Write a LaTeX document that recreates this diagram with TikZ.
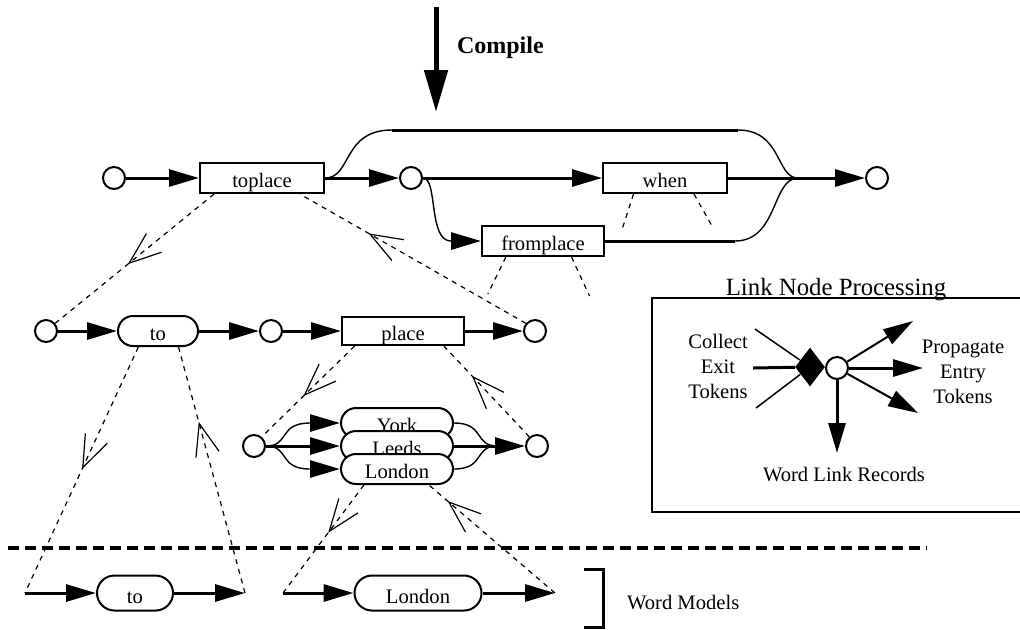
\documentclass[tikz,border=0pt]{standalone}
\usepackage{fontspec}
\setmainfont{Liberation Serif}
\usetikzlibrary{arrows.meta,positioning,calc,shapes.geometric,decorations.markings}

\newcommand\netfont{\fontsize{10.3}{12.5}\selectfont}

\tikzset{
  state/.style={circle,draw,line width=1pt,minimum size=11pt,inner sep=0pt,fill=white},
  rule/.style={rectangle,draw,line width=1pt,minimum width=#1,minimum height=15pt,inner sep=0pt,
    text height=9pt,text depth=0pt,font=\netfont,fill=white},
  word/.style={rule=#1,rounded corners=7.5pt},
  model/.style={word=#1,rounded corners=8.75pt,minimum height=17.5pt,text height=10pt},
  flow/.style={line width=1.5pt,-{Triangle[length=15pt,width=8.5pt]}},
  branch/.style={line width=0.7pt},
  bar/.style={line width=1.5pt},
  backlink/.style={line width=0.6pt,dash pattern=on 2.5pt off 2.5pt},
  chevron/.style={backlink,postaction={decorate,solid,line width=1pt},
    decoration={markings,mark=at position #1 with {\arrow{Straight Barb[length=16pt,width=12pt,line width=1pt]}}}},
}

\begin{document}
\begin{tikzpicture}[x=0.5pt,y=-0.5pt]
  \useasboundingbox (0,0) rectangle (1020,629);

  % compile arrow
  \coordinate (src) at (436,7);
  \coordinate (dst) at (436,112);
  \draw[line width=2.5pt,-{Triangle[length=21pt,width=11.5pt]}] (src) -- (dst);
  \node[anchor=west,font=\fontsize{12}{14}\selectfont\bfseries] (compile) at (450,48) {Compile};

  % sentence level
  \node[state] (c1) at (114,178) {};
  \node[rule=62pt, right=36.5pt of c1] (toplace) {toplace};
  \node[state, right=37pt of toplace] (c2) {};
  \node[rule=62pt, right=89.5pt of c2] (when) {when};
  \node[state, right=68.5pt of when] (c5) {};
  \node[rule=61pt] (fromplace) at (543,241) {fromplace};
  \coordinate (mergea) at (798,178);
  \coordinate (fromin) at (451,241);

  \draw[flow] (c1) -- (toplace);
  \draw[flow] (toplace) -- (c2);
  \draw[flow] (c2) -- (when);
  \draw[bar] (when) -- (mergea);
  \draw[flow] (mergea) -- (c5);
  \draw[branch] (toplace.east) .. controls (352,178) and (342,130) .. (392,130);
  \draw[bar] (392,130) -- (738,130);
  \draw[branch] (738,130) .. controls (782,130) and (776,178) .. (mergea);
  \draw[branch] (c2.east) .. controls (438,178) and (428,241) .. (fromin);
  \draw[flow] (fromin) -- (fromplace);
  \draw[bar] (fromplace) -- (735,241);
  \draw[branch] (735,241) .. controls (778,241) and (772,178) .. (mergea);

  \draw[backlink] ($(when.south west)!0.25!(when.south east)$) -- ++(-11,34);
  \draw[backlink] ($(when.south west)!0.73!(when.south east)$) -- ++(18,32);
  \draw[backlink] ($(fromplace.south west)!0.2!(fromplace.south east)$) -- ++(-18,37);
  \draw[backlink] ($(fromplace.south west)!0.73!(fromplace.south east)$) -- ++(18,39);

  % toplace
  \node[state] (c3l) at (46,331) {};
  \node[word=40pt, right=29.5pt of c3l] (to) {to};
  \node[state, right=30pt of to] (c3) {};
  \node[rule=61pt, minimum height=14pt, right=29pt of c3] (place) {place};
  \node[state, right=29pt of place] (c4) {};

  \draw[flow] (c3l) -- (to);
  \draw[flow] (to) -- (c3);
  \draw[flow] (c3) -- (place);
  \draw[flow] (place) -- (c4);

  \draw[chevron=0.55] ($(toplace.south west)!0.12!(toplace.south east)$) -- (c3l.40);
  \draw[chevron=0.7] (c4.140) -- ($(toplace.south west)!0.8!(toplace.south east)$);

  % place
  \node[state] (cy) at (254,446) {};
  \node[word=56pt] (york) at (397,423) {York};
  \node[word=56pt] (leeds) at (397,446) {Leeds};
  \node[word=56pt] (london) at (397,469) {London};
  \node[state] (cz) at (537,446) {};
  \coordinate (yorkin) at (310,423);
  \coordinate (londonin) at (310,469);
  \coordinate (mergeb) at (497,446);

  \draw[branch] (cy.east) .. controls (290,446) and (278,423) .. (yorkin);
  \draw[branch] (cy.east) .. controls (290,446) and (278,469) .. (londonin);
  \draw[flow] (yorkin) -- (york);
  \draw[flow] (cy) -- (leeds);
  \draw[flow] (londonin) -- (london);
  \draw[branch] (york.east) .. controls (485,423) and (474,446) .. (mergeb);
  \draw[branch] (london.east) .. controls (485,469) and (474,446) .. (mergeb);
  \draw[bar] (leeds) -- (mergeb);
  \draw[flow] (mergeb) -- (cz);

  \draw[chevron=0.56] ($(place.south west)!0.11!(place.south east)$) -- (cy.50);
  \draw[chevron=0.68] (cz.130) -- ($(place.south west)!0.83!(place.south east)$);

  % word models
  \draw[line width=2pt,dash pattern=on 5.5pt off 3pt] (8,548) -- (927,548);

  \coordinate (tostart) at (25,593);
  \coordinate (toend) at (245,593);
  \coordinate (lostart) at (283,593);
  \coordinate (loend) at (555,593);
  \node[model=38pt] (wto) at (135,593) {to};
  \node[model=63.5pt] (wlondon) at (418,593) {London};

  \draw[flow] (tostart) -- (wto);
  \draw[flow] (wto) -- (toend);
  \draw[flow] (lostart) -- (wlondon);
  \draw[flow] (wlondon) -- (loend);

  \draw[chevron=0.5] ($(to.south west)!0.26!(to.south east)$) -- (tostart);
  \draw[chevron=0.7] (toend) -- ($(to.south west)!0.75!(to.south east)$);
  \draw[chevron=0.45] ($(london.south west)!0.21!(london.south east)$) -- (lostart);
  \draw[chevron=0.86] (loend) -- ($(london.south west)!0.78!(london.south east)$);

  \draw[line width=1.5pt] (584,569) -- (603,569) -- (603,627) -- (584,627);
  \node[anchor=west,font=\netfont] (models) at (620,602) {Word Models};

  % link node processing
  \node[anchor=base,font=\fontsize{12.4}{14}\selectfont] (lnp) at (836,295) {Link Node Processing};
  \draw[line width=1pt] (1020,298) -- (652,298) -- (652,512) -- (1020,512);
  \node[state] (hub) at (837,368) {};
  \node[diamond,fill=black,minimum width=15pt,minimum height=19.5pt,inner sep=0pt] (gate) at (810,367) {};
  \coordinate (exita) at (755,329);
  \coordinate (exitb) at (753,368);
  \coordinate (exitc) at (756,408);
  \coordinate (entrya) at (913,321);
  \coordinate (entryb) at (923,368);
  \coordinate (entryc) at (918,413);
  \coordinate (record) at (837,453);
  \draw[line width=0.75pt] (exita) -- (gate);
  \draw[bar] (exitb) -- (gate);
  \draw[line width=0.75pt] (exitc) -- (gate);
  \draw[flow,line width=1pt] (hub) -- (entrya);
  \draw[flow] (hub) -- (entryb);
  \draw[flow,line width=1pt] (hub) -- (entryc);
  \draw[flow] (hub) -- (record);

  \node[font=\netfont,align=center] (collect) at (718,366) {Collect\\Exit\\Tokens};
  \node[font=\netfont,align=center] (propagate) at (963,372) {Propagate\\Entry\\Tokens};
  \node[font=\netfont] (records) at (844,474) {Word Link Records};
\end{tikzpicture}
\end{document}
